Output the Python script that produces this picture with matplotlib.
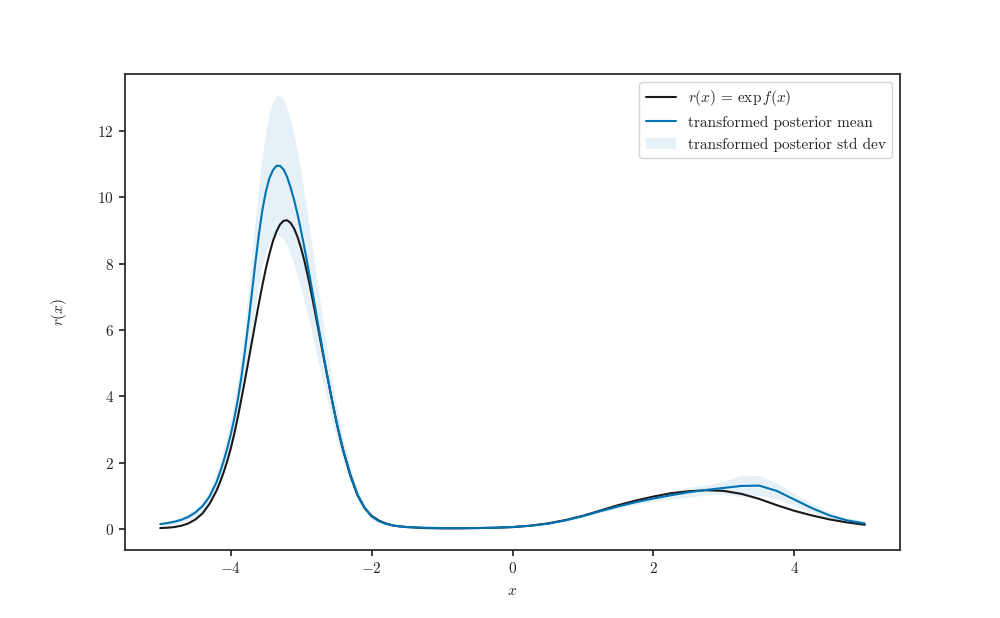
"""Transformed GP posterior vs the true rate function r(x) = exp f(x)."""
import matplotlib
matplotlib.use("Agg")
import matplotlib.pyplot as plt
import numpy as np
import seaborn as sns

sns.set_style("ticks")
plt.rcParams.update({
    "font.family": "serif",
    "font.serif": ["cmr10"],
    "mathtext.fontset": "cm",
    "axes.formatter.use_mathtext": True,
    "axes.unicode_minus": True,
    "font.size": 11,
    "axes.edgecolor": "#262626",
    "axes.linewidth": 1.25,
    "xtick.major.size": 4.5,
    "ytick.major.size": 4.5,
    "xtick.major.width": 1.25,
    "ytick.major.width": 1.25,
})

# grid the curves were read on (finer across the big peak)
x = [-5.0, -4.9, -4.8, -4.7, -4.6, -4.5, -4.4, -4.3, -4.2,
     -4.15, -4.1, -4.05, -4.0, -3.95, -3.9, -3.85, -3.8, -3.75, -3.7,
     -3.65, -3.6, -3.55, -3.5, -3.45, -3.4, -3.35, -3.3, -3.25, -3.2,
     -3.15, -3.1, -3.05, -3.0, -2.95, -2.9, -2.85, -2.8, -2.75, -2.7,
     -2.65, -2.6, -2.55, -2.5, -2.45, -2.4,
     -2.3, -2.2, -2.1, -2.0, -1.9, -1.8, -1.7, -1.6, -1.5,
     -1.25, -1.0, -0.75, -0.5, -0.25, 0.0, 0.25, 0.5, 0.75, 1.0,
     1.25, 1.5, 1.75, 2.0, 2.25, 2.5, 2.75, 3.0, 3.25, 3.5,
     3.75, 4.0, 4.25, 4.5, 4.75, 5.0]

# true r(x)
r_true = [0.03, 0.04, 0.06, 0.10, 0.17, 0.29, 0.47, 0.76, 1.16,
          1.42, 1.71, 2.04, 2.42, 2.86, 3.36, 3.90, 4.46, 5.04, 5.63,
          6.22, 6.80, 7.35, 7.86, 8.30, 8.68, 8.97, 9.18, 9.29, 9.31,
          9.23, 9.06, 8.80, 8.46, 8.05, 7.58, 7.06, 6.51, 5.95, 5.39,
          4.84, 4.30, 3.76, 3.24, 2.77, 2.34,
          1.60, 1.02, 0.64, 0.40, 0.26, 0.17, 0.11, 0.08, 0.06,
          0.03, 0.02, 0.02, 0.03, 0.04, 0.06, 0.10, 0.17, 0.27, 0.40,
          0.56, 0.72, 0.86, 0.98, 1.08, 1.14, 1.17, 1.15, 1.06, 0.91,
          0.72, 0.55, 0.41, 0.29, 0.20, 0.13]

# transformed posterior mean
r_mean = [0.15, 0.18, 0.22, 0.28, 0.37, 0.50, 0.69, 0.98, 1.42,
          1.72, 2.05, 2.42, 2.84, 3.32, 3.88, 4.55, 5.33, 6.18, 7.10,
          8.02, 8.88, 9.62, 10.18, 10.58, 10.82, 10.95, 10.95, 10.84, 10.62,
          10.30, 9.92, 9.48, 8.98, 8.44, 7.87, 7.28, 6.67, 6.06, 5.46,
          4.87, 4.30, 3.76, 3.26, 2.80, 2.37,
          1.64, 1.04, 0.64, 0.38, 0.24, 0.16, 0.11, 0.08, 0.06,
          0.04, 0.03, 0.03, 0.03, 0.04, 0.06, 0.10, 0.16, 0.26, 0.39,
          0.54, 0.68, 0.81, 0.92, 1.02, 1.11, 1.18, 1.24, 1.30, 1.31,
          1.15, 0.89, 0.63, 0.41, 0.26, 0.17]

# transformed posterior std dev
r_std = [0.05, 0.06, 0.07, 0.08, 0.10, 0.12, 0.15, 0.20, 0.27,
         0.31, 0.36, 0.41, 0.47, 0.54, 0.62, 0.72, 0.84, 0.98, 1.14,
         1.31, 1.49, 1.67, 1.83, 1.96, 2.05, 2.10, 2.11, 2.10, 2.07,
         2.02, 1.95, 1.86, 1.75, 1.62, 1.48, 1.34, 1.20, 1.07, 0.94,
         0.82, 0.70, 0.60, 0.50, 0.42, 0.35,
         0.24, 0.16, 0.10, 0.07, 0.05, 0.04, 0.03, 0.02, 0.02,
         0.015, 0.01, 0.01, 0.01, 0.01, 0.01, 0.015, 0.02, 0.025, 0.03,
         0.04, 0.05, 0.07, 0.09, 0.12, 0.15, 0.15, 0.20, 0.32, 0.30,
         0.24, 0.18, 0.14, 0.11, 0.09, 0.07]

blue = "#0173b2"
xs = np.array(x)
mean = np.array(r_mean)
std = np.array(r_std)

fig, ax = plt.subplots(figsize=(10, 6.18), dpi=100)
ax.plot(xs, r_true, color="#1a1a1a", lw=1.5, label=r"$r(x) \,=\, \exp f(x)$")
ax.plot(xs, mean, color=blue, lw=1.5, label="transformed posterior mean")
ax.fill_between(xs, mean - std, mean + std, color=blue, alpha=0.1, lw=0,
                label="transformed posterior std dev")

ax.set_xticks([-4, -2, 0, 2, 4])
ax.set_yticks([0, 2, 4, 6, 8, 10, 12])
ax.set_xlabel("$x$", labelpad=6)
ax.set_ylabel("$r(x)$", labelpad=20)
ax.legend(loc="upper right", frameon=True)

fig.savefig("out.png", dpi=100)
